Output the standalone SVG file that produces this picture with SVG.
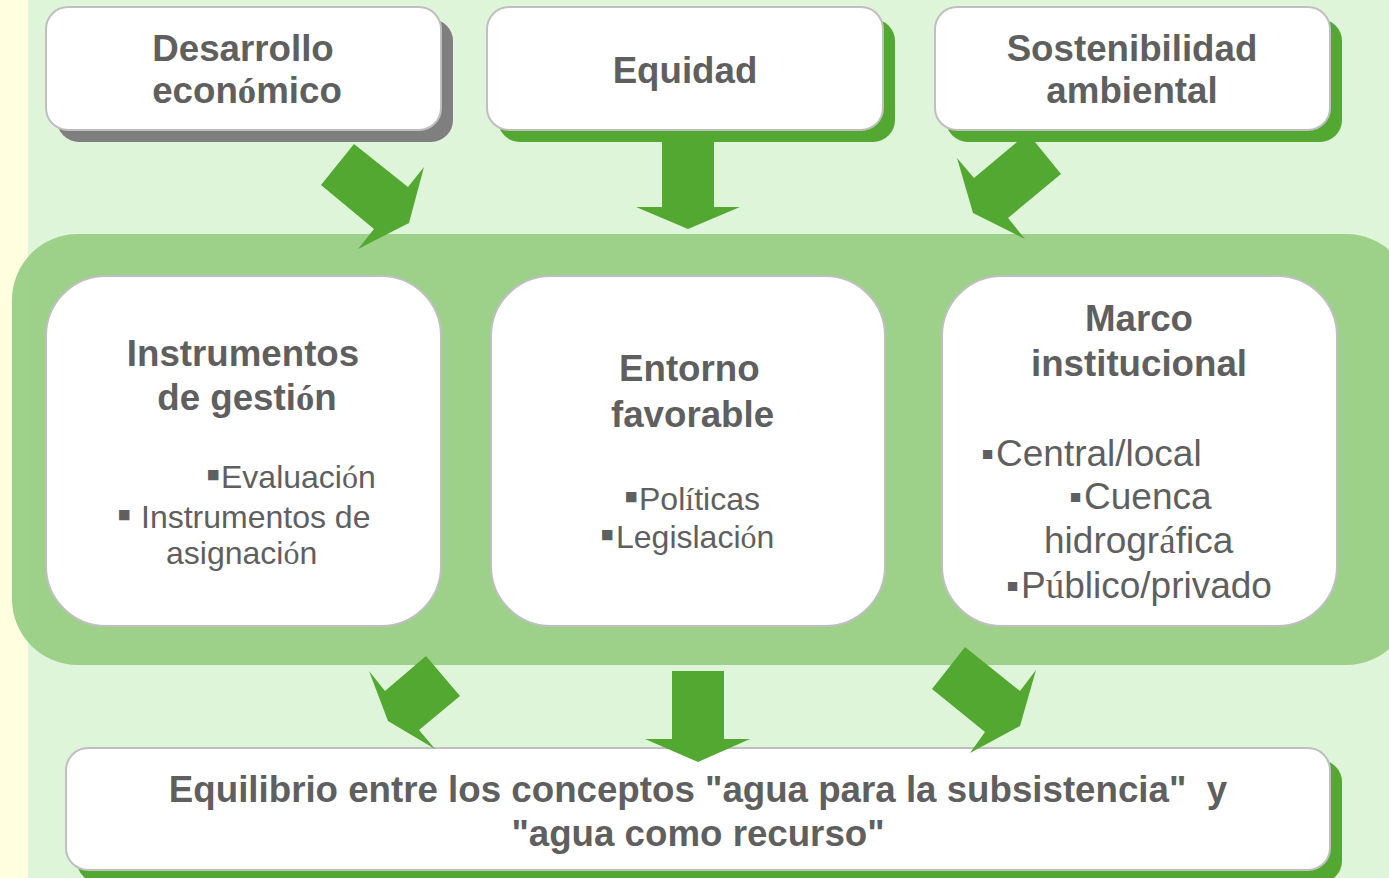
<svg xmlns="http://www.w3.org/2000/svg" width="1389" height="878" viewBox="0 0 1389 878">
<style>
.t{font-family:"Liberation Sans",Arial,sans-serif;fill:#5F5F5F}
.b{font-weight:bold;font-size:36.7px}
.r{font-size:32px}
.r36{font-size:37px}
.bu{font-size:1.3em}
.acc{font-family:"Liberation Serif","Times New Roman",serif}
.box{fill:#FFFFFF;stroke:#BFBFBF;stroke-width:2}
.shg{fill:#52A830}
.shk{fill:#7F7F7F}
.arrow{fill:#52A830}
</style>
<rect x="0" y="0" width="1389" height="878" fill="#DFF5DA"/>
<rect x="0" y="0" width="28" height="878" fill="#FFFFE0"/>
<rect id="band" x="12" y="234" width="1400" height="431" rx="66" ry="66" fill="#9BCF86" fill-opacity="0.97"/>

<g id="instrumentos">
<rect class="box" x="46" y="276" width="395" height="350" rx="60" ry="60"/>
<text class="t b" text-anchor="middle"><tspan x="243" y="366">Instrumentos</tspan><tspan x="247" y="410">de gesti<tspan class="acc">ó</tspan>n</tspan></text>
<text class="t r"><tspan class="bu" x="206" y="488">▪</tspan><tspan x="221" y="488">Evaluaci<tspan class="acc">ó</tspan>n</tspan></text>
<text class="t r"><tspan class="bu" x="117" y="528">▪</tspan><tspan x="141" y="528">Instrumentos de</tspan></text>
<text class="t r"><tspan x="166" y="564">asignaci<tspan class="acc">ó</tspan>n</tspan></text>
</g>

<g id="entorno">
<rect class="box" x="491" y="276" width="394" height="350" rx="60" ry="60"/>
<text class="t b"><tspan x="619" y="381">Entorno</tspan><tspan x="611" y="427">favorable</tspan></text>
<text class="t r"><tspan class="bu" x="624" y="510">▪</tspan><tspan x="639" y="510">Pol<tspan class="acc">í</tspan>ticas</tspan></text>
<text class="t r"><tspan class="bu" x="600" y="548">▪</tspan><tspan x="616" y="548">Legislaci<tspan class="acc">ó</tspan>n</tspan></text>
</g>

<g id="marco">
<rect class="box" x="942" y="276" width="395" height="350" rx="60" ry="60"/>
<text class="t b" text-anchor="middle"><tspan x="1139" y="331">Marco</tspan><tspan x="1139" y="376">institucional</tspan></text>
<text class="t r36"><tspan x="981" y="466">▪</tspan><tspan x="996" y="466">Central/local</tspan></text>
<text class="t r36"><tspan x="1069" y="509">▪</tspan><tspan x="1084" y="509">Cuenca</tspan></text>
<text class="t r36"><tspan x="1044" y="553">hidrogr<tspan class="acc">á</tspan>fica</tspan></text>
<text class="t r36"><tspan x="1006" y="598">▪</tspan><tspan x="1021" y="598">P<tspan class="acc">ú</tspan>blico/privado</tspan></text>
</g>

<g id="desarrollo">
<rect class="shk" x="57" y="19" width="396" height="123" rx="22" ry="22"/>
<rect class="box" x="46" y="7" width="395" height="123" rx="22" ry="22"/>
<text class="t b" text-anchor="middle"><tspan x="243" y="61">Desarrollo</tspan><tspan x="247" y="103">econ<tspan class="acc">ó</tspan>mico</tspan></text>
</g>

<g id="equidad">
<rect class="shg" x="498" y="19" width="397" height="123" rx="22" ry="22"/>
<rect class="box" x="487" y="7" width="396" height="123" rx="22" ry="22"/>
<text class="t b" text-anchor="middle" x="685" y="83">Equidad</text>
</g>

<g id="sostenibilidad">
<rect class="shg" x="946" y="19" width="396" height="123" rx="22" ry="22"/>
<rect class="box" x="935" y="7" width="395" height="123" rx="22" ry="22"/>
<text class="t b" text-anchor="middle"><tspan x="1132" y="61">Sostenibilidad</tspan><tspan x="1132" y="103">ambiental</tspan></text>
</g>

<g id="equilibrio">
<rect class="shg" x="77" y="760" width="1265" height="123" rx="22" ry="22"/>
<rect class="box" x="66" y="748" width="1264" height="122" rx="22" ry="22"/>
<text class="t b" text-anchor="middle"><tspan x="698" y="802">Equilibrio entre los conceptos "agua para la subsistencia"&#160; y</tspan><tspan x="698" y="846">"agua como recurso"</tspan></text>
</g>

<g id="connectors">
<polygon class="arrow" points="354,144 408,187 424,167 409,223 358,249 374,229 321,185"/>
<polygon class="arrow" points="662,142 714,142 714,207 740,207 688,229 636,207 662,207"/>
<polygon class="arrow" points="1017,142 1035,142 1061,174 1008,218 1025,239 973,213 957,158 974,178"/>
<polygon class="arrow" points="426,656 460,696 419,730 435,749 388,721 369,671 385,691"/>
<polygon class="arrow" points="672,671 724,671 724,739 750,739 698,762 645,739 672,739"/>
<polygon class="arrow" points="965,647 1020,691 1036,670 1020,726 970,753 985,732 932,689"/>
</g>
</svg>
